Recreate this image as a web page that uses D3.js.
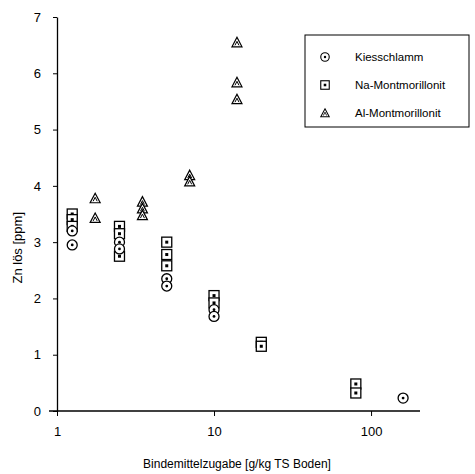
<!DOCTYPE html>
<html>
<head>
<meta charset="utf-8">
<script src="https://cdn.jsdelivr.net/npm/d3@7"></script>
<style>
  body { margin: 0; background: #fff; }
  svg { display: block; font-family: "Liberation Sans", Arial, sans-serif; }
</style>
</head>
<body>
<div id="main"></div>
<script>
// data (x = binder dose, y = dissolved Zn)
const kiesX = [1.25, 1.25, 2.5, 2.5, 5, 5, 10, 10, 160];
const kiesY = [2.95, 3.2, 3.0, 2.88, 2.35, 2.22, 1.8, 1.68, 0.23];
const naX = [1.25, 1.25, 1.25, 2.5, 2.5, 2.5, 5, 5, 5, 10, 10, 20, 20, 80, 80];
const naY = [3.5, 3.4, 3.28, 3.28, 3.15, 2.75, 3.0, 2.78, 2.58, 2.05, 1.92, 1.22, 1.15, 0.48, 0.32];
const alX = [1.75, 1.75, 3.5, 3.5, 3.5, 7, 7, 14, 14, 14];
const alY = [3.78, 3.43, 3.72, 3.6, 3.48, 4.19, 4.08, 6.55, 5.84, 5.54];

const seriesNames = ["Kiesschlamm", "Na-Montmorillonit", "Al-Montmorillonit"];
const xTicks = [1, 10, 100];
const yTicks = [0, 1, 2, 3, 4, 5, 6, 7];

const W = 475, H = 474;
const margin = { left: 57, right: 55, top: 17, bottom: 63 };

const svg = d3.select("#main").append("svg")
  .attr("width", W)
  .attr("height", H);

const x = d3.scaleLog().domain([1, 205]).range([margin.left, W - margin.right]);
const y = d3.scaleLinear().domain([0, 7]).range([H - margin.bottom, margin.top]);

// axes
const xAxis = svg.append("g")
  .attr("transform", `translate(0,${y(0)})`)
  .call(d3.axisBottom(x).tickValues(xTicks).tickFormat(d3.format("d")).tickSize(5).tickSizeOuter(0));
xAxis.select(".domain").remove();
xAxis.append("line")
  .attr("x1", margin.left - 8).attr("x2", x(205))
  .attr("stroke", "#000").attr("stroke-width", 1.3);
xAxis.selectAll("text").attr("font-size", 13).attr("fill", "#000").attr("dy", "1.3em");

const yAxis = svg.append("g")
  .attr("transform", `translate(${margin.left},0)`)
  .call(d3.axisLeft(y).tickValues(yTicks).tickFormat(d3.format("d")).tickSize(4).tickSizeOuter(0));
yAxis.select(".domain").attr("stroke-width", 1.3);
yAxis.selectAll("text").attr("font-size", 13).attr("fill", "#000").attr("dx", "-0.7em");

// axis titles
svg.append("text")
  .attr("x", 237).attr("y", 468)
  .attr("text-anchor", "middle")
  .attr("font-size", 12)
  .text("Bindemittelzugabe [g/kg TS Boden]");

svg.append("text")
  .attr("transform", `translate(22,${y(2.9)}) rotate(-90)`)
  .attr("text-anchor", "middle")
  .attr("font-size", 13)
  .text("Zn lös [ppm]");

// marker drawing
function drawCircle(g) {
  g.append("circle").attr("r", 5).attr("fill", "#fff").attr("stroke", "#000").attr("stroke-width", 1.3);
  g.append("circle").attr("r", 1.4).attr("fill", "#000");
}
function drawSquare(g) {
  g.append("rect").attr("x", -5).attr("y", -5).attr("width", 10).attr("height", 10)
    .attr("fill", "#fff").attr("stroke", "#000").attr("stroke-width", 1.3);
  g.append("rect").attr("x", -1.5).attr("y", -1.5).attr("width", 3).attr("height", 3).attr("fill", "#000");
}
function drawTriangle(g) {
  g.append("path").attr("d", "M0,-5L5,4.5L-5,4.5Z")
    .attr("fill", "#fff").attr("stroke", "#000").attr("stroke-width", 1.2);
  g.append("path").attr("d", "M0,-1L2,3M0,-1L-2,3").attr("stroke", "#000").attr("stroke-width", 1);
}

const plot = svg.append("g");
const series = [
  { xs: naX, ys: naY, draw: drawSquare },
  { xs: kiesX, ys: kiesY, draw: drawCircle },
  { xs: alX, ys: alY, draw: drawTriangle }
];
series.forEach(s => {
  plot.append("g")
    .selectAll("g")
    .data(s.xs.map((d, i) => [d, s.ys[i]]))
    .enter()
    .append("g")
    .attr("transform", d => `translate(${x(d[0])},${y(d[1])})`)
    .each(function () { s.draw(d3.select(this)); });
});

// legend
const legend = svg.append("g").attr("transform", "translate(305,35)");
legend.append("rect")
  .attr("width", 164).attr("height", 92)
  .attr("fill", "#fff").attr("stroke", "#000").attr("stroke-width", 1);
const drawers = [drawCircle, drawSquare, drawTriangle];
seriesNames.forEach((name, i) => {
  const row = legend.append("g").attr("transform", `translate(0,${22 + i * 28})`);
  const m = row.append("g").attr("transform", "translate(20,0) scale(0.85)");
  drawers[i](m);
  row.append("text").attr("x", 50).attr("y", 4).attr("font-size", 11.5).text(name);
});
</script>
</body>
</html>
